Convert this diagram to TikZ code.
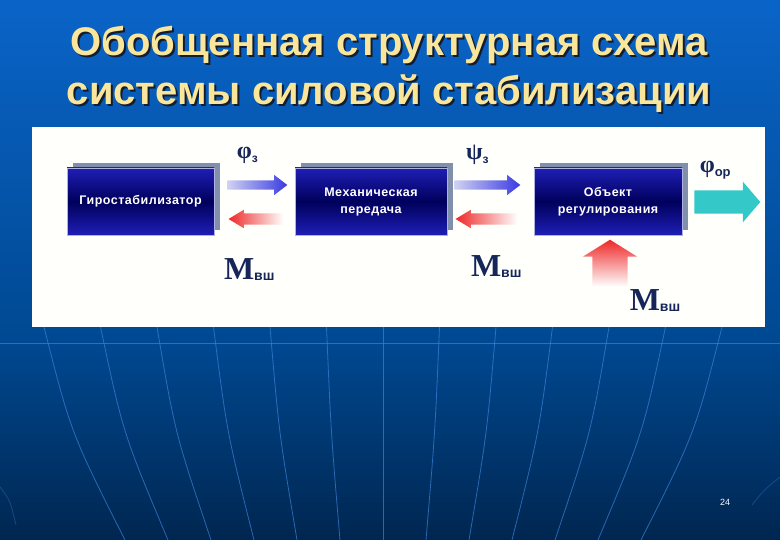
\documentclass[tikz,border=0pt]{standalone}
\usepackage{fontspec}
\setmainfont{Liberation Sans}
\newfontfamily\titlefont{Liberation Sans}
\newfontfamily\blockfont[LetterSpace=4]{Liberation Sans}
\newfontfamily\greekfont{Liberation Serif}
\usetikzlibrary{calc,positioning,shapes.arrows,shadows}
\definecolor{bgtop}{RGB}{10,100,200}
\definecolor{bgmid}{RGB}{0,72,145}
\definecolor{bgbot}{RGB}{0,38,80}
\definecolor{sttitle}{RGB}{250,230,155}
\definecolor{stshade}{RGB}{20,28,48}
\definecolor{stnavy}{RGB}{22,38,88}
\definecolor{stslate}{RGB}{128,144,172}
\definecolor{stblue}{RGB}{30,30,182}
\definecolor{stdeep}{RGB}{0,0,92}
\definecolor{starrb}{RGB}{58,58,225}
\definecolor{starrl}{RGB}{208,210,242}
\definecolor{stred}{RGB}{238,40,40}
\definecolor{stcyan}{RGB}{52,200,200}
\definecolor{stline}{RGB}{60,130,215}
\definecolor{stpanel}{RGB}{255,255,252}
\tikzset{
  stblock/.style={rectangle,minimum height=67pt,top color=stblue,bottom color=stblue,middle color=stdeep,
    draw=stblue!35!white,line width=0.5pt,text=white,align=center,
    font=\blockfont\bfseries\fontsize{12.5}{17}\selectfont,
    drop shadow={shadow xshift=6pt,shadow yshift=5pt,fill=stslate,opacity=1}},
  starr/.style={single arrow,inner xsep=0pt,draw=none,single arrow head indent=0pt},
  stblueA/.style={starr,left color=starrl,right color=starrb},
  stredL/.style={starr,shape border rotate=180,left color=stred,right color=white},
  stredU/.style={starr,shape border rotate=90,top color=stred,bottom color=white},
  stcyanA/.style={starr,fill=stcyan},
  stlab/.style={text=stnavy,inner sep=0pt},
  sttitleT/.style={text=sttitle,anchor=base,font=\titlefont\bfseries\fontsize{40}{40}\selectfont},
  stmerid/.style={stline,line width=0.8pt,opacity=0.7},
}
\newcommand{\stsub}[2]{\raisebox{#1}{\fontsize{12}{12}\selectfont\bfseries #2}}
\newcommand{\stgreek}[1]{{\greekfont\bfseries\fontsize{24}{24}\selectfont #1}}
\newcommand{\stmom}{{\greekfont\bfseries\fontsize{32}{32}\selectfont М}\stsub{-1pt}{\fontsize{14}{14}\selectfont вш}}
\newcommand{\sttitletext}[1]{\makebox[0pt][l]{\hspace{2pt}\raisebox{-2pt}{\color{stshade}#1}}#1}
\begin{document}
\begin{tikzpicture}[x=1pt,y=-1pt]
\useasboundingbox (0,0) rectangle (780,540);
% ---- background of the slide
\shade[top color=bgtop,bottom color=bgmid] (0,0) rectangle (780,343);
\shade[top color=bgmid,bottom color=bgbot] (0,343) rectangle (780,540);
\foreach \k in {-6,...,6}
  \draw[stmerid] (383+56.5*\k,327) .. controls (383+52*\k,433) .. (383+43*\k,540);
\draw[stmerid] (0,343) -- (780,343);
\draw[stmerid,opacity=0.35] (0,487) .. controls (10,500) .. (16,525);
\draw[stmerid,opacity=0.35] (752,505) .. controls (764,490) .. (780,477);
% ---- title
\node[sttitleT] (title1) at (389,56) {\sttitletext{Обобщенная структурная схема}};
\node[sttitleT] (title2) at (389,105) {\sttitletext{системы силовой стабилизации}};
% ---- white panel
\fill[stpanel] (32,127) rectangle (765,327);
% ---- blocks
\node[stblock,minimum width=147pt] (gyro) at (140.5,201.5) {Гиростабилизатор};
\node[stblock,minimum width=152pt] (mech) at (371,201.5) {Механическая\\передача};
\node[stblock,minimum width=148pt] (obj) at (608,201.5) {Объект\\регулирования};
% ---- signals between the blocks
\node[stblueA,minimum height=60pt,inner ysep=4.5pt,single arrow head extend=5.5pt,single arrow tip angle=75]
  (phiA) at ($(gyro.east)+(40,-16.5)$) {};
\node[stredL,minimum height=55pt,inner ysep=5.5pt,single arrow head extend=3.5pt,single arrow tip angle=62]
  (momA) at ($(gyro.east)+(46.5,17.5)$) {};
\node[stblueA,minimum height=66pt,inner ysep=4.5pt,single arrow head extend=5.5pt,single arrow tip angle=75]
  (psiA) at ($(mech.east)+(37,-16.5)$) {};
\node[stredL,minimum height=62pt,inner ysep=5.5pt,single arrow head extend=3.5pt,single arrow tip angle=62]
  (momB) at ($(mech.east)+(44,17.5)$) {};
\node[stcyanA,minimum height=66pt,inner ysep=11.5pt,single arrow head extend=8.5pt,single arrow tip angle=99]
  (outA) at ($(obj.east)+(40,0.5)$) {};
\node[stredU,minimum height=47pt,inner sep=17.5pt,single arrow head extend=9.5pt,single arrow tip angle=116]
  (momC) at ($(obj.south)+(2,33.5)$) {};
% ---- labels
\node[stlab] (phiL) at ($(phiA)+(-7,-30)$) {\stgreek{φ}\stsub{-4pt}{з}};
\node[stlab] (momL1) at ($(momA)+(-11.5,51)$) {\stmom};
\node[stlab] (psiL) at ($(psiA)+(-7,-30)$) {\stgreek{ψ}\stsub{-4pt}{з}};
\node[stlab] (momL2) at ($(momB)+(5,48)$) {\stmom};
\node[stlab] (outL) at ($(outA)+(-7,-32)$) {\stgreek{φ}\stsub{-4pt}{\fontsize{13}{13}\selectfont ор}};
\node[stlab] (momL3) at ($(momC)+(45,31.5)$) {\stmom};
% ---- page number
\node[text=white,font=\fontsize{9}{9}\selectfont] (pnum) at (725,502) {24};
\end{tikzpicture}
\end{document}
